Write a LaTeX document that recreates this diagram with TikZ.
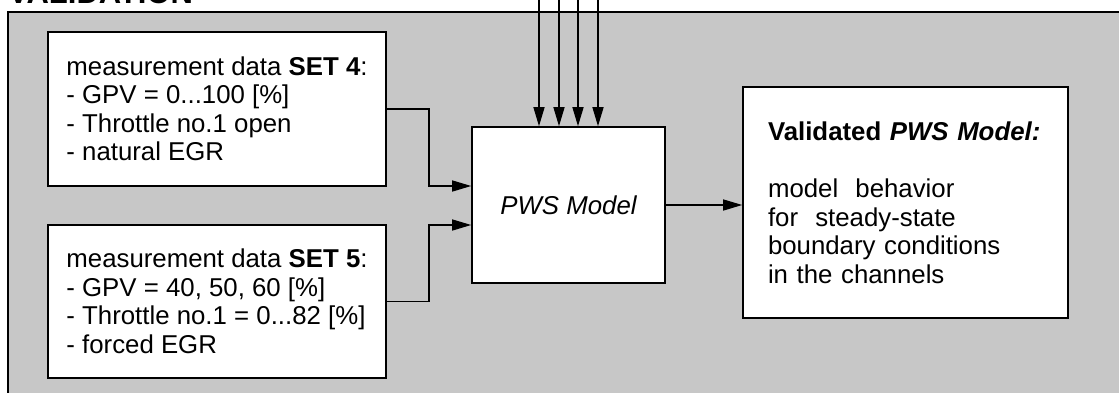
\documentclass[tikz,border=0pt]{standalone}
\usepackage{fontspec}
\setmainfont{Liberation Sans}
\usetikzlibrary{arrows.meta,calc}

\begin{document}
\begin{tikzpicture}[x=1pt,y=-1pt,
  every node/.style={font=\fontsize{25.8}{28.5}\selectfont},
  box/.style={draw, line width=1.6pt, fill=white, inner sep=0pt},
  link/.style={line width=1.3pt, -{Triangle[length=19pt,width=11pt]}},
]
\useasboundingbox (0,0) rectangle (1119,392);
\clip (0,0) rectangle (1119,392);

% section heading and shaded frame
\node[anchor=base west, inner sep=0pt, font=\bfseries\fontsize{31}{31}\selectfont] (title) at (8,3) {VALIDATION};
\draw[line width=1.6pt, fill=black!22] (8,12) rectangle (1135,410);

% blocks
\node[box, minimum width=338, minimum height=154, align=left] (set4) at (217,109)
  {measurement data \textbf{SET 4}:\\
   - GPV = 0...100 [\%]\\
   - Throttle no.1 open\\
   - natural EGR};
\node[box, minimum width=338, minimum height=153, align=left] (set5) at (217,301.5)
  {measurement data \textbf{SET 5}:\\
   - GPV = 40, 50, 60 [\%]\\
   - Throttle no.1 = 0...82 [\%]\\
   - forced EGR};
\node[box, minimum width=193, minimum height=156] (pws) at (568.5,205) {\itshape PWS Model};
\node[box, minimum width=325, minimum height=231, text width=275, align=left] (val) at (905.5,202.5)
  {\textbf{Validated \textit{PWS Model:}}\\[29pt]
   model~~behavior\\
   for~~steady-state\\
   boundary conditions\\
   in the channels};

% inputs of the model
\coordinate (in4) at ($(pws.west)+(0,-19)$);
\coordinate (in5) at ($(pws.west)+(0,20)$);
\draw[link] (set4.east) -| ($(set4.east)!.5!(in4)$) |- (in4);
\draw[link] (set5.east) -| ($(set5.east)!.5!(in5)$) |- (in5);

\foreach \i/\dx in {1/-29.5,2/-9.5,3/9.5,4/29.5} {
  \coordinate (src\i) at ($(pws.north)+(\dx,-135)$);
  \draw[link] (src\i) -- (src\i |- pws.north);
}

% output
\draw[link] (pws.east) -- (pws.east -| val.west);
\end{tikzpicture}
\end{document}
